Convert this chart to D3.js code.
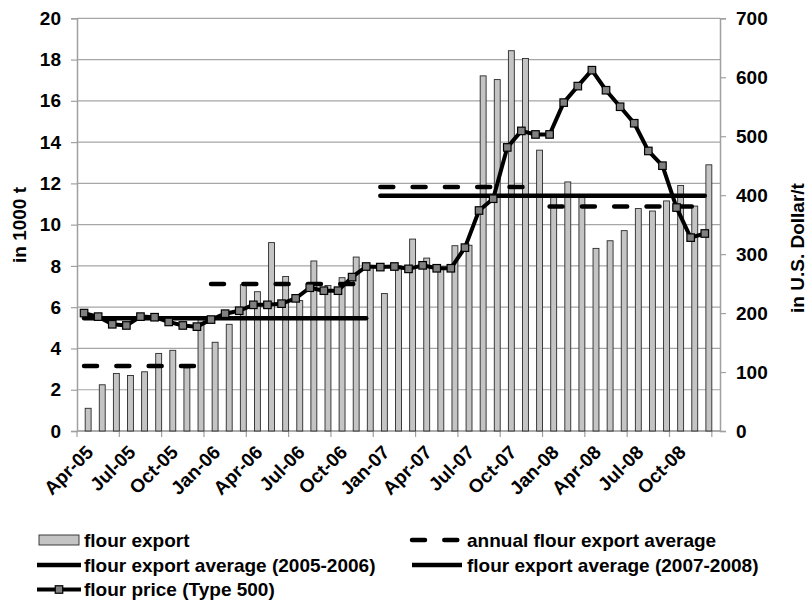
<!DOCTYPE html>
<html>
<head>
<meta charset="utf-8">
<script src="https://cdn.jsdelivr.net/npm/d3@7"></script>
<style>
  body { margin: 0; background: #fff; }
  svg text { font-family: "Liberation Sans", Arial, sans-serif; font-weight: bold; fill: #000; }
</style>
</head>
<body>
<script>
// months Apr-05 .. Dec-08
var months = [];
var monthNames = ["Jan","Feb","Mar","Apr","May","Jun","Jul","Aug","Sep","Oct","Nov","Dec"];
for (var yr = 2005; yr <= 2008; yr++) {
	for (var m = 0; m < 12; m++) {
		if (yr === 2005 && m < 3) continue;
		months.push(monthNames[m] + "-" + String(yr).slice(2));
	}
}

// flour export, 1000 t
var flourExport = [
	1.1, 2.24, 2.79, 2.69, 2.87, 3.76, 3.91, 3.06, 5.5,
	4.3, 5.17, 7.09, 6.75, 9.13, 7.49, 6.32, 8.24, 7.05, 7.43, 8.43, 8.0,
	6.66, 8.0, 9.3, 8.38, 7.9, 8.98, 9.0, 17.21, 17.03, 18.43, 18.05, 13.61,
	11.4, 12.07, 11.4, 8.85, 9.22, 9.71, 10.78, 10.66, 11.15, 11.9, 10.9, 12.9
];

// flour price (Type 500), USD/t
var flourPrice = [
	200, 194, 181, 179, 194, 193, 185, 179, 177,
	189, 199, 204, 214, 214, 216, 225, 243, 238, 238, 261, 279,
	278, 279, 275, 281, 276, 276, 311, 374, 394, 481, 509, 503,
	503, 557, 585, 612, 578, 550, 522, 475, 450, 379, 328, 335
];

// annual averages [first month, last month, value]
var annualAvg = [
	["Apr-05", "Dec-05", 3.15],
	["Jan-06", "Dec-06", 7.12],
	["Jan-07", "Dec-07", 11.83],
	["Jan-08", "Dec-08", 10.88]
];
var periodAvg = [
	["Apr-05", "Dec-06", 5.46],
	["Jan-07", "Dec-08", 11.4]
];

var leftTicks = [0, 2, 4, 6, 8, 10, 12, 14, 16, 18, 20];
var rightTicks = [0, 100, 200, 300, 400, 500, 600, 700];
var labelMonths = ["Apr-05","Jul-05","Oct-05","Jan-06","Apr-06","Jul-06","Oct-06","Jan-07",
	"Apr-07","Jul-07","Oct-07","Jan-08","Apr-08","Jul-08","Oct-08"];

var W = 808, H = 601;
var plotL = 77, plotR = 720, plotT = 18.3, plotB = 431;
var fs = "19px";
var dash = "13,19.3";

var svg = d3.select("body").append("svg").attr("width", W).attr("height", H);

var x = d3.scaleBand().domain(months).range([plotL, plotR]).padding(0.58);
var step = x.step();
function cx(m) { return plotL + (months.indexOf(m) + 0.5) * step; }

var yL = d3.scaleLinear().domain([0, 20]).range([plotB, plotT]);
var yR = d3.scaleLinear().domain([0, 700]).range([plotB, plotT]);

// gridlines
svg.append("g")
	.selectAll("line")
	.data(leftTicks)
	.enter().append("line")
	.attr("x1", plotL).attr("x2", plotR)
	.attr("y1", function(d) { return yL(d); })
	.attr("y2", function(d) { return yL(d); })
	.attr("stroke", "#a6a6a6")
	.attr("stroke-width", 1.2);

// left axis
var axL = svg.append("g").attr("transform", "translate(" + plotL + ",0)")
	.call(d3.axisLeft(yL).tickValues(leftTicks).tickSize(6).tickPadding(10));
axL.selectAll("text").style("font-size", fs);

// right axis
var axR = svg.append("g").attr("transform", "translate(" + plotR + ",0)")
	.call(d3.axisRight(yR).tickValues(rightTicks).tickSize(6).tickPadding(10));
axR.selectAll("text").style("font-size", fs);

[axL, axR].forEach(function(a) {
	a.select(".domain").attr("stroke", "#a0a0a0").attr("stroke-width", 1.5);
	a.selectAll(".tick line").attr("stroke", "#a0a0a0").attr("stroke-width", 1.2);
});

// bottom axis
svg.append("line")
	.attr("x1", plotL).attr("x2", plotR)
	.attr("y1", plotB).attr("y2", plotB)
	.attr("stroke", "#a0a0a0").attr("stroke-width", 1.5);

svg.append("g")
	.selectAll("line")
	.data(labelMonths.concat(["end"]))
	.enter().append("line")
	.attr("x1", function(d, i) { return plotL + i * 3 * step; })
	.attr("x2", function(d, i) { return plotL + i * 3 * step; })
	.attr("y1", plotB).attr("y2", plotB + 6)
	.attr("stroke", "#a0a0a0").attr("stroke-width", 1.2);

svg.append("g")
	.selectAll("text")
	.data(labelMonths)
	.enter().append("text")
	.attr("text-anchor", "end")
	.attr("transform", function(d) { return "translate(" + (cx(d) + 1) + "," + (plotB + 13) + ") rotate(-45)"; })
	.attr("dy", "0.7em")
	.style("font-size", fs)
	.text(function(d) { return d; });

// bars
svg.append("g")
	.selectAll("rect")
	.data(flourExport)
	.enter().append("rect")
	.attr("x", function(d, i) { return x(months[i]); })
	.attr("y", function(d) { return yL(d); })
	.attr("width", x.bandwidth())
	.attr("height", function(d) { return plotB - yL(d); })
	.attr("fill", "#c4c4c4")
	.attr("stroke", "#2a2a2a")
	.attr("stroke-width", 0.9);

// averages
svg.append("g")
	.selectAll("line")
	.data(annualAvg)
	.enter().append("line")
	.attr("x1", function(d) { return cx(d[0]); })
	.attr("x2", function(d) { return cx(d[1]); })
	.attr("y1", function(d) { return yL(d[2]); })
	.attr("y2", function(d) { return yL(d[2]); })
	.attr("stroke", "#000").attr("stroke-width", 4.5)
	.attr("stroke-linecap", "round")
	.attr("stroke-dasharray", dash);

svg.append("g")
	.selectAll("line")
	.data(periodAvg)
	.enter().append("line")
	.attr("x1", function(d) { return cx(d[0]); })
	.attr("x2", function(d) { return cx(d[1]); })
	.attr("y1", function(d) { return yL(d[2]); })
	.attr("y2", function(d) { return yL(d[2]); })
	.attr("stroke", "#000").attr("stroke-width", 4.5)
	.attr("stroke-linecap", "round");

// price line
var line = d3.line()
	.x(function(d, i) { return cx(months[i]); })
	.y(function(d) { return yR(d); });

svg.append("path")
	.datum(flourPrice)
	.attr("d", line)
	.attr("fill", "none")
	.attr("stroke", "#000")
	.attr("stroke-width", 4)
	.attr("stroke-linejoin", "round");

svg.append("g")
	.selectAll("rect")
	.data(flourPrice)
	.enter().append("rect")
	.attr("x", function(d, i) { return cx(months[i]) - 3.75; })
	.attr("y", function(d) { return yR(d) - 3.75; })
	.attr("width", 7.5).attr("height", 7.5)
	.attr("fill", "#808080")
	.attr("stroke", "#000")
	.attr("stroke-width", 1.2);

// axis titles
svg.append("text")
	.attr("transform", "translate(19,225) rotate(-90)")
	.attr("text-anchor", "middle")
	.attr("dy", "0.35em")
	.style("font-size", fs)
	.text("in 1000 t");

svg.append("text")
	.attr("transform", "translate(797,248) rotate(-90)")
	.attr("text-anchor", "middle")
	.attr("dy", "0.35em")
	.style("font-size", fs)
	.text("in U.S. Dollar/t");

// legend
var lg = svg.append("g").style("font-size", fs);
var lx1 = 37, lx2 = 412;
var row1 = 540, row2 = 565, row3 = 589.5;

lg.append("rect").attr("x", lx1 + 2).attr("y", row1 - 5).attr("width", 40).attr("height", 10)
	.attr("fill", "#c4c4c4").attr("stroke", "#2a2a2a").attr("stroke-width", 0.9);
lg.append("text").attr("x", lx1 + 47).attr("y", row1).attr("dy", "0.35em").text("flour export");

lg.append("line").attr("x1", lx2).attr("x2", lx2 + 50).attr("y1", row1).attr("y2", row1)
	.attr("stroke", "#000").attr("stroke-width", 4.5).attr("stroke-linecap", "round")
	.attr("stroke-dasharray", dash);
lg.append("text").attr("x", lx2 + 55).attr("y", row1).attr("dy", "0.35em").text("annual flour export average");

lg.append("line").attr("x1", lx1).attr("x2", lx1 + 44).attr("y1", row2).attr("y2", row2)
	.attr("stroke", "#000").attr("stroke-width", 4.5);
lg.append("text").attr("x", lx1 + 47).attr("y", row2).attr("dy", "0.35em").text("flour export average (2005-2006)");

lg.append("line").attr("x1", lx2).attr("x2", lx2 + 50).attr("y1", row2).attr("y2", row2)
	.attr("stroke", "#000").attr("stroke-width", 4.5);
lg.append("text").attr("x", lx2 + 55).attr("y", row2).attr("dy", "0.35em").text("flour export average (2007-2008)");

lg.append("line").attr("x1", lx1).attr("x2", lx1 + 44).attr("y1", row3).attr("y2", row3)
	.attr("stroke", "#000").attr("stroke-width", 4);
lg.append("rect").attr("x", lx1 + 18.25).attr("y", row3 - 3.75).attr("width", 7.5).attr("height", 7.5)
	.attr("fill", "#808080").attr("stroke", "#000").attr("stroke-width", 1.2);
lg.append("text").attr("x", lx1 + 47).attr("y", row3).attr("dy", "0.35em").text("flour price (Type 500)");
</script>
</body>
</html>
